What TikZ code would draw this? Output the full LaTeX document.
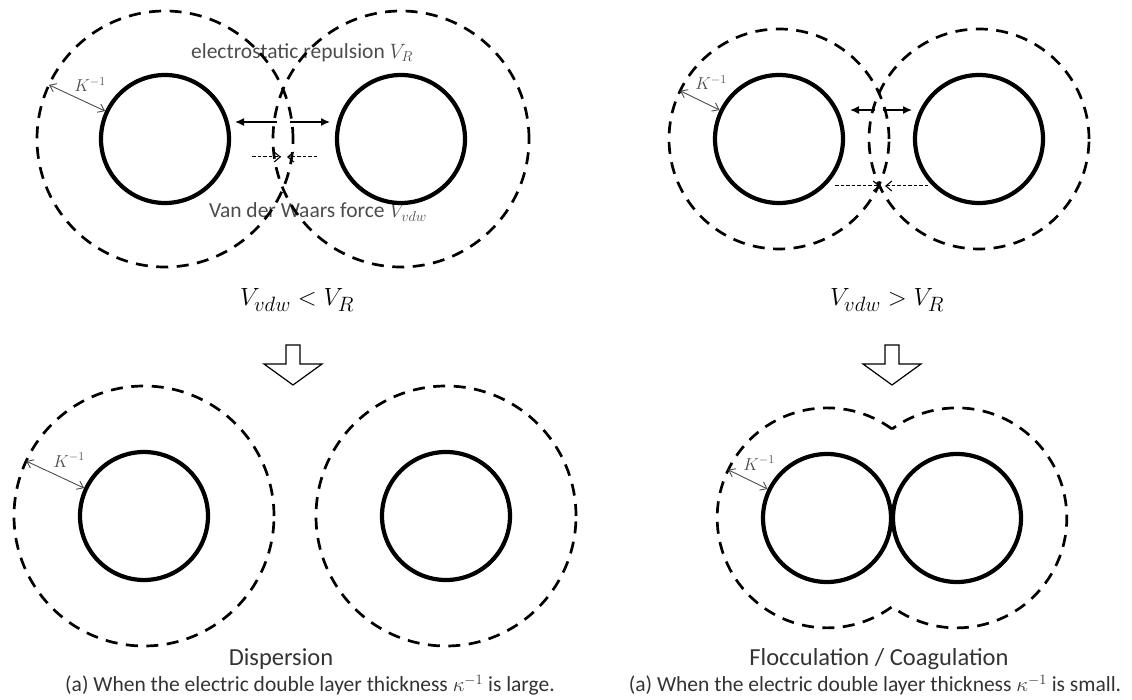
\documentclass[tikz,border=0pt]{standalone}
\usepackage{fontspec}
\newfontfamily\calibri{Carlito}
\usetikzlibrary{arrows.meta}
\begin{document}
\begin{tikzpicture}[x=1pt,y=1pt,
  particle/.style={circle,draw,line width=4.2pt,minimum size=128pt,inner sep=0pt},
  layer/.style={draw,dash pattern=on 12pt off 8.5pt,line width=2.7pt},
  layernode/.style={layer,circle,inner sep=0pt,outer sep=0pt},
  guide/.style={circle,inner sep=0pt,outer sep=0pt},
  repel/.style={line width=1.4pt,-{Latex[length=9pt,width=8pt]}},
  attract/.style={line width=1pt,dash pattern=on 3.5pt off 2pt,-{Straight Barb[length=6pt,width=10pt,line width=1.1pt]}},
  karrow/.style={draw=black!70,line width=0.9pt,{Straight Barb[length=6pt,width=9pt]}-{Straight Barb[length=6pt,width=9pt]}},
  klabel/.style={text=black!70,font=\fontsize{18}{18}\selectfont,inner sep=0pt},
  lbl/.style={text=black!70,font=\calibri\fontsize{21.5}{21.5}\selectfont,inner sep=0pt},
  formula/.style={font=\fontsize{30}{30}\selectfont,inner sep=0pt},
  titletxt/.style={text=black!80,font=\calibri\fontsize{24.5}{24.5}\selectfont,inner sep=0pt},
  captxt/.style={text=black!80,font=\calibri\fontsize{21.5}{21.5}\selectfont,inner sep=0pt},
  block/.style={draw,line width=1.2pt,fill=white,line join=miter}
]
\useasboundingbox (0,0) rectangle (1132,699);

% ---------- top left ----------
\node[lbl] (er) at (302,646) {electrostatic repulsion $V_R$};
\node[lbl] (vw) at (318,487) {Van der Waars force $V_{vdw}$};
\node[particle] (a1) at (165,560) {};
\node[particle] (a2) at (401,560) {};
\node[layernode,minimum size=256pt] (la1) at (165,560) {};
\node[layernode,minimum size=256pt] (la2) at (401,560) {};
\coordinate (ra1) at (277,577); \coordinate (ra1t) at (235,577);
\coordinate (ra2) at (290,577); \coordinate (ra2t) at (330,577);
\draw[repel] (ra1) -- (ra1t);
\draw[repel] (ra2) -- (ra2t);
\coordinate (aa1) at (252,542); \coordinate (aa1t) at (281,542);
\coordinate (aa2) at (317,542); \coordinate (aa2t) at (287,542);
\draw[attract] (aa1) -- (aa1t);
\draw[attract] (aa2) -- (aa2t);
\draw[karrow] (la1.155) -- (a1.155);
\node[klabel] (ka) at (90,614) {$K^{-1}$};

% ---------- top right ----------
\node[particle] (b1) at (779,560) {};
\node[particle] (b2) at (979,560) {};
\node[layernode,minimum size=220pt] (lb1) at (779,560) {};
\node[layernode,minimum size=220pt] (lb2) at (979,560) {};
\coordinate (rb1) at (875,589); \coordinate (rb1t) at (850,589);
\coordinate (rb2) at (883,589); \coordinate (rb2t) at (912,589);
\draw[repel] (rb1) -- (rb1t);
\draw[repel] (rb2) -- (rb2t);
\coordinate (ab1) at (835,513); \coordinate (ab1t) at (880,513);
\coordinate (ab2) at (928,513); \coordinate (ab2t) at (885,513);
\draw[attract] (ab1) -- (ab1t);
\draw[attract] (ab2) -- (ab2t);
\draw[karrow] (lb1.154) -- (b1.154);
\node[klabel] (kb) at (711,616) {$K^{-1}$};

% ---------- conditions and block arrows ----------
\node[formula] (f1) at (297,399) {$V_{vdw} < V_R$};
\node[formula] (f2) at (887,399) {$V_{vdw} > V_R$};
\draw[block] (286,354) -- (300,354) -- (300,335) -- (322,335) -- (293,314) -- (264,335) -- (286,335) -- cycle;
\draw[block] (885,354) -- (899,354) -- (899,335) -- (921,335) -- (892,314) -- (863,335) -- (885,335) -- cycle;

% ---------- bottom left ----------
\node[particle] (c1) at (144,183) {};
\node[particle] (c2) at (446,183) {};
\node[layernode,minimum size=260pt] (lc1) at (144,183) {};
\node[layernode,minimum size=260pt] (lc2) at (446,183) {};
\draw[karrow] (lc1.155) -- (c1.155);
\node[klabel] (kc) at (69,239) {$K^{-1}$};

% ---------- bottom right ----------
\node[particle] (d1) at (827,181) {};
\node[particle] (d2) at (957,181) {};
\node[guide,minimum size=220pt] (ld1) at (827,181) {};
\draw[layer] (892,270) arc[start angle=53.9,end angle=306.1,radius=110pt]
  arc[start angle=233.9,end angle=486.1,radius=110pt] -- cycle;
\draw[karrow] (ld1.154) -- (d1.154);
\node[klabel] (kd) at (759,236) {$K^{-1}$};

% ---------- captions ----------
\node[titletxt] (t1) at (281,40) {Dispersion};
\node[titletxt] (t2) at (879,40) {Flocculation / Coagulation};
\node[captxt] (s1) at (310,14) {(a) When the electric double layer thickness $\kappa^{-1}$ is large.};
\node[captxt] (s2) at (875,14) {(a) When the electric double layer thickness $\kappa^{-1}$ is small.};
\end{tikzpicture}
\end{document}
